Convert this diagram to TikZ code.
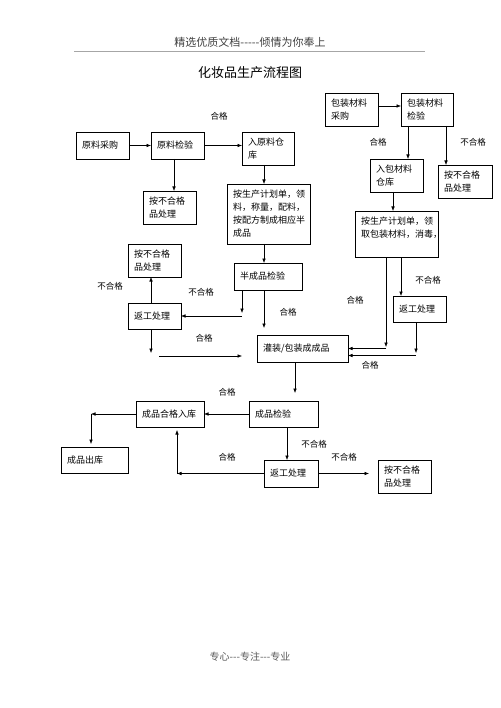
\documentclass[tikz,border=0pt]{standalone}
\usepackage{fontspec}
\setmainfont{Noto Sans CJK SC}
\usetikzlibrary{arrows.meta}
\begin{document}
\begin{tikzpicture}[x=1pt,y=-1pt,
  box/.style={draw, line width=0.6pt, inner xsep=6pt, inner ysep=2pt, outer sep=0pt,
    anchor=north west, align=left, font=\fontsize{9}{13}\selectfont},
  arr/.style={-{Latex[length=4.5pt,width=3.6pt]}, line width=0.6pt},
  lbl/.style={font=\fontsize{8.5}{10}\selectfont, inner sep=0pt}]
\useasboundingbox (0,0) rectangle (500,708);
% header / title / footer
\node[font=\fontsize{11}{13}\selectfont, text=black!75] (hdr) at (250,42) {精选优质文档-{}-{}-{}-{}-倾情为你奉上};
\coordinate (hl) at (74,52); \coordinate (hr) at (425,52);
\draw[black!35, line width=1pt] (hl) -- (hr);
\node[font=\fontsize{13}{15}\selectfont] (title) at (250,73) {化妆品生产流程图};
\node[font=\fontsize{10}{12}\selectfont, text=black!65] (ftr) at (250,657) {专心-{}-{}-专注-{}-{}-专业};
% boxes
\node[box, minimum width=53pt, minimum height=27pt, text width=41pt] (A) at (76,132) {原料采购};
\node[box, minimum width=53pt, minimum height=27pt, text width=41pt] (B) at (151,132) {原料检验};
\node[box, minimum width=52pt, minimum height=33pt, text width=40pt] (C) at (242,132) {入原料仓\\库};
\node[box, minimum width=53pt, minimum height=33pt, text width=41pt] (D) at (143,191) {按不合格\\品处理};
\node[box, minimum width=83pt, minimum height=60pt, text width=71pt] (E) at (227,184) {按生产计划单，领\\料，称量，配料，\\按配方制成相应半\\成品};
\node[box, minimum width=53pt, minimum height=33pt, text width=41pt] (F) at (325,93) {包装材料\\采购};
\node[box, minimum width=52pt, minimum height=33pt, text width=40pt] (G) at (401,93) {包装材料\\检验};
\node[box, minimum width=53pt, minimum height=33pt, text width=41pt] (H) at (370,159) {入包材料\\仓库};
\node[box, minimum width=54pt, minimum height=33pt, text width=42pt] (I) at (438,165) {按不合格\\品处理};
\node[box, minimum width=83pt, minimum height=46pt, text width=71pt] (J) at (355,211) {按生产计划单，领\\取包装材料，消毒，\\~};
\node[box, minimum width=53pt, minimum height=33pt, text width=41pt] (K) at (128,244) {按不合格\\品处理};
\node[box, minimum width=53pt, minimum height=26pt, text width=41pt] (L) at (128,303) {返工处理};
\node[box, minimum width=68pt, minimum height=27pt, text width=56pt] (M) at (234,263) {半成品检验};
\node[box, minimum width=53pt, minimum height=26pt, text width=41pt] (N) at (393,296) {返工处理};
\node[box, minimum width=91pt, minimum height=27pt, text width=79pt] (P) at (257,335) {灌装/包装成成品};
\node[box, minimum width=69pt, minimum height=26pt, text width=57pt] (Q) at (249,401) {成品检验};
\node[box, minimum width=68pt, minimum height=26pt, text width=56pt] (R) at (136,401) {成品合格入库};
\node[box, minimum width=67pt, minimum height=26pt, text width=55pt] (S) at (61,447) {成品出库};
\node[box, minimum width=54pt, minimum height=27pt, text width=42pt] (T) at (264,460) {返工处理};
\node[box, minimum width=53pt, minimum height=33pt, text width=41pt] (U) at (378,460) {按不合格\\品处理};
% connectors
\draw[arr] (A) -- (B);
\draw[arr] (B.east) -- (B.east -| C.west);
\coordinate (b1) at ([xshift=-3.5]B.south); \draw[arr] (b1) -- (b1 |- D.north);
\coordinate (c1) at ([xshift=-4]C.south); \draw[arr] (c1) -- (c1 |- E.north);
\coordinate (e1) at ([xshift=-4.5]E.south); \draw[arr] (e1) -- (e1 |- M.north);
\coordinate (f1) at ([yshift=3.5]F.east); \draw[arr] (f1) -- (f1 -| G.west);
\coordinate (g1) at ([xshift=-19]G.south); \draw[arr] (g1) -- (g1 |- H.north);
\coordinate (g2) at ([xshift=19]G.south); \draw[arr] (g2) -- (g2 |- I.north);
\coordinate (h1) at ([xshift=-3.5]H.south); \draw[arr] (h1) -- (h1 |- J.north);
\coordinate (j1) at ([xshift=-10.5]J.south); \coordinate (j2) at (386,347);
\draw[arr] (j1) -- (j2);
\coordinate (j3) at (386,348.5); \draw[arr] (j3) -- (j3 -| P.east);
\coordinate (j4) at ([xshift=4.5]J.south); \draw[arr] (j4) -- (j4 |- N.north);
\coordinate (n1) at ([xshift=-3.5]N.south); \coordinate (n2) at (416,353);
\draw[arr] (n1) -- (n2);
\coordinate (n3) at (416,355.5); \draw[arr] (n3) -- (n3 -| P.east);
\coordinate (m1) at ([xshift=-26]M.south); \coordinate (m2) at (242,313);
\draw[arr] (m1) -- (m2);
\coordinate (m3) at (242,316); \draw[arr] (m3) -- (m3 -| L.east);
\coordinate (m4) at ([xshift=-4]M.south); \draw[arr, shorten >=7pt] (m4) -- (m4 |- P.north);
\coordinate (l1) at ([xshift=-3.5]L.north); \draw[arr] (l1) -- (l1 |- K.south);
\coordinate (l2) at ([xshift=-3.5]L.south); \coordinate (l3) at (151,353);
\draw[arr] (l2) -- (l3);
\coordinate (k1) at (159,356); \coordinate (k2) at (242,356);
\draw[arr] (k1) -- (k2);
\coordinate (p1) at ([xshift=-7.5]P.south); \draw[arr, shorten >=8pt] (p1) -- (p1 |- Q.north);
\draw[arr] (Q) -- (R);
\coordinate (r1) at (91,414); \draw[arr] (R.west) -- (r1);
\draw[arr, shorten >=3pt] (r1) -- (r1 |- S.north);
\coordinate (q1) at ([xshift=3.5]Q.south); \draw[arr] (q1) -- (q1 |- T.north);
\coordinate (t1) at (177,473.5); \draw[arr] (T.west) -- (t1);
\draw[arr, shorten >=3pt] (t1) -- (t1 |- R.south);
\coordinate (t2) at (369,473.5); \draw[arr] (T.east) -- (t2);
% labels
\node[lbl] (x1) at (219,116) {合格};
\node[lbl] (x2) at (378,142) {合格};
\node[lbl] (x3) at (473,142) {不合格};
\node[lbl] (x4) at (428,280) {不合格};
\node[lbl] (x5) at (355,300) {合格};
\node[lbl] (x6) at (370,365) {合格};
\node[lbl] (x7) at (110,286) {不合格};
\node[lbl] (x8) at (201,292) {不合格};
\node[lbl] (x9) at (288,312) {合格};
\node[lbl] (x10) at (204,338) {合格};
\node[lbl] (x11) at (227,392) {合格};
\node[lbl] (x12) at (227,457) {合格};
\node[lbl] (x13) at (314,444) {不合格};
\node[lbl] (x14) at (344,457) {不合格};
\end{tikzpicture}
\end{document}
